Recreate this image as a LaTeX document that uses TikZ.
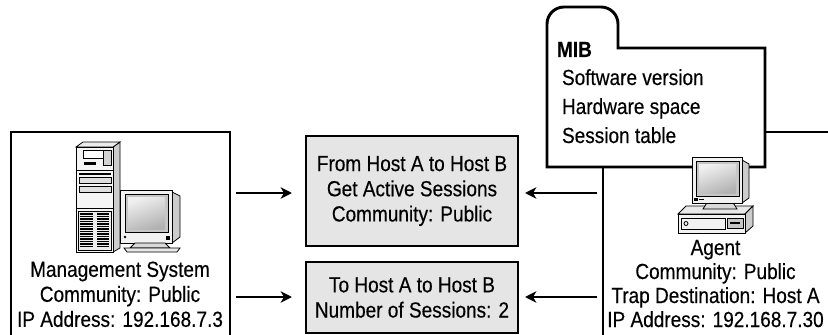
\documentclass[tikz,border=0pt]{standalone}
\usepackage{fontspec}
\setmainfont[FakeStretch=0.87,FakeBold=0.35]{Liberation Sans}
\usetikzlibrary{arrows.meta}

\definecolor{boxgray}{gray}{0.9}

\begin{document}
\begin{tikzpicture}[x=0.75pt,y=-0.75pt,
  every node/.style={inner sep=0pt, outer sep=0pt},
  txt/.style={align=center, font=\fontsize{16.4}{18.75}\selectfont},
  listtxt/.style={anchor=base west, font=\fontsize{16.4}{18.75}\selectfont},
  msgbox/.style={draw, line width=2.2pt, fill=boxgray, minimum width=159pt,
    align=center, font=\fontsize{16.4}{18.9}\selectfont},
  frame/.style={line width=2.2pt, line join=miter},
  wire/.style={line width=2.2pt},
  arr/.style={line width=1.7pt, -{Stealth[length=8.5pt,width=8.5pt,inset=2.5pt]}},
  icon/.style={line width=0.6pt, draw=black},
  vent/.style={line width=0.85pt},
]
\useasboundingbox (0,0) rectangle (828,335);

% ---------------- management station (open frame) ----------------
\draw[frame] (11,340) -- (11,132) -- (230,132) -- (230,340);

% tower: side, top, front
\filldraw[icon, fill=gray!40] (113,147) -- (120,142) -- (120,248) -- (113,252) -- cycle;
\filldraw[icon, fill=gray!15] (76,147) -- (83,142) -- (120,142) -- (113,147) -- cycle;
\filldraw[icon, fill=gray!8] (76,147) rectangle (113,252);
% upper bay
\filldraw[icon, fill=white] (83,150) rectangle (103,158);
\filldraw[icon, fill=gray!35] (103,150) rectangle (111,165);
\fill (84,162) rectangle (96,165);
\draw[icon] (76,170) -- (113,170);
% drive slots
\fill (79,173) rectangle (111,174.5);
\filldraw[icon, fill=gray!25] (79,177) rectangle (111,183);
\filldraw[icon, fill=gray!25] (79,186) rectangle (111,192);
\draw[icon] (76,208) -- (113,208);
% vent grille
\draw[icon, fill=gray!15] (78,211) rectangle (111,250);
\foreach \i in {0,...,13} {
  \draw[vent] (80,{214+2.5*\i}) -- (93,{214+2.5*\i});
  \draw[vent] (97,{214+2.5*\i}) -- (109,{214+2.5*\i});
}

% monitor
\filldraw[icon, fill=gray!40] (172,192) -- (180,196) -- (180,237) -- (172,243) -- cycle;
\filldraw[icon, fill=gray!10] (120,190) rectangle (172,243);
\filldraw[icon, fill=gray!45] (125,194) rectangle (168,232);
\shade[top color=gray!12, bottom color=gray!60, shading angle=20] (128,197) rectangle (165,229);
\fill (125,237) circle (1.3);
\fill (166,235.5) rectangle (170,239.5);
\filldraw[icon, fill=gray!30] (135,243) -- (165,243) -- (170,248) -- (130,248) -- cycle;
\filldraw[icon, fill=gray!18] (124,248) -- (180,248) -- (177,252) -- (127,252) -- cycle;

\node[txt] (msys) at (120,294.3)
  {Management System\\Community: Public\\IP Address: 192.168.7.3};

% ---------------- SNMP messages ----------------
\node[msgbox, minimum height=82.5pt] (get) at (412,191)
  {From Host A to Host B\\Get Active Sessions\\Community: Public};
\node[msgbox, minimum height=53.25pt] (resp) at (412,297.5)
  {To Host A to Host B\\Number of Sessions: 2};

\coordinate (ms1) at (236,193);
\coordinate (ms2) at (236,297);
\coordinate (ag1) at (597,193);
\coordinate (ag2) at (597,297);
\draw[arr, shorten >=10.5pt] (ms1) -- (ms1 -| get.west);
\draw[arr, shorten >=10.5pt] (ms2) -- (ms2 -| resp.west);
\draw[arr, shorten >=5.25pt] (ag1) -- (ag1 -| get.east);
\draw[arr, shorten >=5.25pt] (ag2) -- (ag2 -| resp.east);

% ---------------- agent with its MIB ----------------
\filldraw[wire, fill=white] (547,167) -- (547,24)
  .. controls (547,14.6) and (554.6,7) .. (564,7) -- (601,7)
  .. controls (610.4,7) and (618,14.6) .. (618,24) -- (618,48)
  -- (765,48) -- (765,167) -- cycle;
\coordinate (mibfoot) at (603,167);
\coordinate (lanout) at (840,132);
\draw[wire] (mibfoot) -- (603,340);
\draw[wire] (765,132) -- (lanout);

\node[listtxt, font=\fontsize{16.4}{18.75}\selectfont\bfseries] (mibtitle) at (557,57) {MIB};
\node[listtxt] (mib1) at (562,85) {Software version};
\node[listtxt] (mib2) at (562,114) {Hardware space};
\node[listtxt] (mib3) at (562,143) {Session table};

% agent desktop
\filldraw[icon, fill=gray!18] (678,214) -- (686,206) -- (753,206) -- (745,214) -- cycle;
\filldraw[icon, fill=gray!40] (745,214) -- (753,206) -- (753,226) -- (745,233) -- cycle;
\filldraw[icon, fill=gray!10] (678,214) rectangle (745,233);
\draw[icon] (681,218) rectangle (725,229);
\draw[icon] (686,223.5) circle (2);
\filldraw[icon, fill=gray!45] (727,218) rectangle (743,228);
\fill (730,221.5) rectangle (740,223.5);
% agent monitor
\filldraw[icon, fill=gray!30] (708,201) -- (732,201) -- (737,209) -- (703,209) -- cycle;
\filldraw[icon, fill=gray!40] (742,160) -- (749,164) -- (749,198) -- (742,203) -- cycle;
\filldraw[icon, fill=gray!10] (692,157) rectangle (742,203);
\filldraw[icon, fill=gray!45] (696,161) rectangle (739,196);
\shade[top color=gray!12, bottom color=gray!60, shading angle=20] (699,164) rectangle (736,193);
\fill (693.5,197.5) rectangle (697.5,200.5);
\draw[icon] (699,199) -- (704,199);

\node[txt, font=\fontsize{16.4}{18}\selectfont] (agent) at (715.5,283.6)
  {Agent\\Community: Public\\Trap Destination: Host A\\IP Address: 192.168.7.30};
\end{tikzpicture}
\end{document}
